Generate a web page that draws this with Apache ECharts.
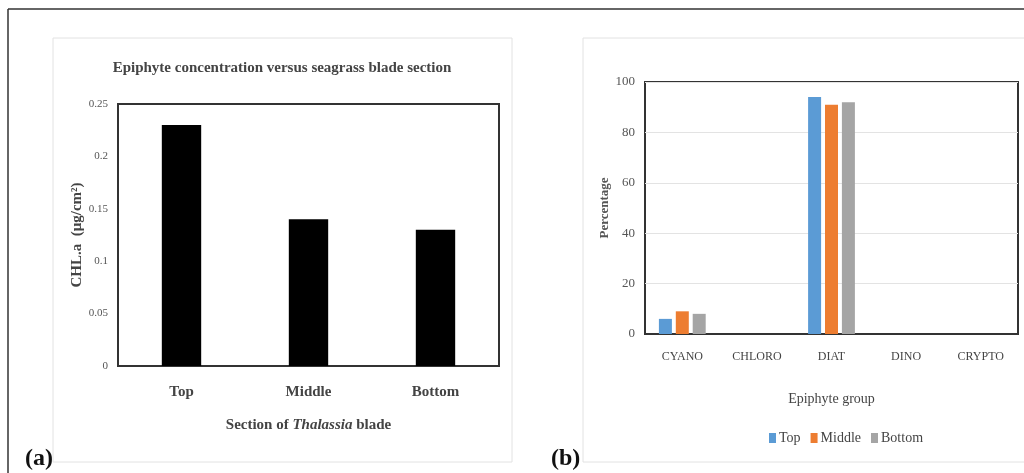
<!DOCTYPE html>
<html><head><meta charset="utf-8">
<script src="https://cdn.jsdelivr.net/npm/echarts@6/dist/echarts.min.js"></script>
<style>html,body{margin:0;padding:0;background:#fff}#c{width:1024px;height:473px}</style>
</head><body><div id="c"></div>
<script>
// Panel (a)
const sections = ['Top', 'Middle', 'Bottom'];
const chlValues = [0.23, 0.14, 0.13];
const chlTicks = [0, 0.05, 0.1, 0.15, 0.2, 0.25];
// Panel (b)
const groups = ['CYANO', 'CHLORO', 'DIAT', 'DINO', 'CRYPTO'];
const pctTop = [6, 0, 94, 0, 0];
const pctMiddle = [9, 0, 91, 0, 0];
const pctBottom = [8, 0, 92, 0, 0];
const pctTicks = [0, 20, 40, 60, 80, 100];

const F = 'Liberation Serif';
const chart = echarts.init(document.getElementById('c'));
chart.setOption({
  backgroundColor: '#fff',
  animation: false,
  textStyle: { fontFamily: F },
  title: {
    text: 'Epiphyte concentration versus seagrass blade section',
    left: 277, top: 56, textAlign: 'center',
    textStyle: { fontFamily: F, fontSize: 15, fontWeight: 'bold', color: '#444' }
  },
  legend: {
    data: ['Top', 'Middle', 'Bottom'],
    left: 764, top: 426,
    itemWidth: 7, itemHeight: 10, itemGap: 10,
    icon: 'rect',
    textStyle: { fontFamily: F, fontSize: 14, color: '#444', padding: [0, 0, 0, -2] }
  },
  graphic: [
    { type: 'line', shape: { x1: 8, y1: 9, x2: 1024, y2: 9 }, style: { stroke: '#333', lineWidth: 1.5 } },
    { type: 'line', shape: { x1: 8, y1: 9, x2: 8, y2: 473 }, style: { stroke: '#333', lineWidth: 1.5 } },
    { type: 'rect', shape: { x: 53, y: 38, width: 459, height: 424 }, style: { fill: 'none', stroke: '#e2e2e2', lineWidth: 1 } },
    { type: 'rect', shape: { x: 583, y: 38, width: 460, height: 424 }, style: { fill: 'none', stroke: '#e2e2e2', lineWidth: 1 } },
    { type: 'text', left: 25, top: 447, style: { text: '(a)', font: 'bold 24px "Liberation Serif"', fill: '#111' } },
    { type: 'text', left: 551, top: 447, style: { text: '(b)', font: 'bold 24px "Liberation Serif"', fill: '#111' } }
  ],
  grid: [
    { left: 118, top: 104, width: 381, height: 262, show: true, borderColor: '#333', borderWidth: 2, backgroundColor: 'transparent' },
    { left: 645, top: 82, width: 373, height: 252, show: true, borderColor: '#333', borderWidth: 2, backgroundColor: 'transparent' }
  ],
  xAxis: [
    {
      type: 'category', gridIndex: 0, data: sections,
      axisLine: { lineStyle: { color: '#333', width: 2 } },
      axisTick: { show: false },
      axisLabel: { fontFamily: F, fontSize: 15, fontWeight: 'bold', color: '#444', margin: 19 },
      name: '{n|Section of }{i|Thalassia}{n| blade}',
      nameLocation: 'middle', nameGap: 52,
      nameTextStyle: {
        rich: {
          n: { fontFamily: F, fontSize: 15, fontWeight: 'bold', color: '#444' },
          i: { fontFamily: F, fontSize: 15, fontWeight: 'bold', fontStyle: 'italic', color: '#444' }
        }
      }
    },
    {
      type: 'category', gridIndex: 1, data: groups,
      axisLine: { lineStyle: { color: '#333', width: 2 } },
      axisTick: { show: false },
      axisLabel: { fontFamily: F, fontSize: 12, color: '#444', margin: 17 },
      name: 'Epiphyte group', nameLocation: 'middle', nameGap: 58,
      nameTextStyle: { fontFamily: F, fontSize: 14, color: '#444' }
    }
  ],
  yAxis: [
    {
      type: 'value', gridIndex: 0, min: 0, max: 0.25, interval: 0.05,
      axisLine: { show: false }, axisTick: { show: false },
      splitLine: { show: false },
      axisLabel: { fontFamily: F, fontSize: 11, color: '#555', margin: 10,
        formatter: v => chlTicks.includes(+v.toFixed(2)) ? String(+v.toFixed(2)) : '' },
      name: 'CHL.a  (μg/cm²)', nameLocation: 'middle', nameGap: 27, nameRotate: 90,
      nameTextStyle: { fontFamily: F, fontSize: 15, fontWeight: 'bold', color: '#444' }
    },
    {
      type: 'value', gridIndex: 1, min: 0, max: 100, interval: 20,
      axisLine: { show: false }, axisTick: { show: false },
      splitLine: { show: true, lineStyle: { color: '#e3e3e3', width: 1 } },
      axisLabel: { fontFamily: F, fontSize: 13, color: '#555', margin: 10,
        formatter: v => pctTicks.includes(v) ? String(v) : '' },
      name: 'Percentage', nameLocation: 'middle', nameGap: 33, nameRotate: 90,
      nameTextStyle: { fontFamily: F, fontSize: 13, fontWeight: 'bold', color: '#555' }
    }
  ],
  series: [
    { type: 'bar', name: 'CHL', xAxisIndex: 0, yAxisIndex: 0, data: chlValues, barWidth: '31%', itemStyle: { color: '#000' } },
    { type: 'bar', name: 'Top', xAxisIndex: 1, yAxisIndex: 1, data: pctTop, barWidth: 13, barGap: '30%', itemStyle: { color: '#5B9BD5' } },
    { type: 'bar', name: 'Middle', xAxisIndex: 1, yAxisIndex: 1, data: pctMiddle, barWidth: 13, barGap: '30%', itemStyle: { color: '#ED7D31' } },
    { type: 'bar', name: 'Bottom', xAxisIndex: 1, yAxisIndex: 1, data: pctBottom, barWidth: 13, barGap: '30%', itemStyle: { color: '#A5A5A5' } }
  ]
});
</script></body></html>
